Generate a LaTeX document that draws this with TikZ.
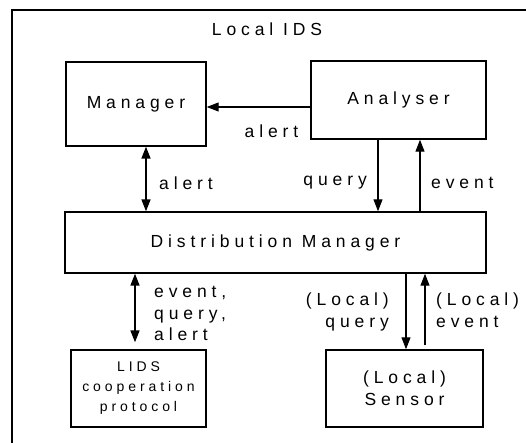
\documentclass[tikz,border=0pt]{standalone}
\usepackage{fontspec}
\setmainfont{Liberation Sans}[LetterSpace=28]
\usetikzlibrary{arrows.meta}
\tikzset{
  box/.style={draw, line width=1.4pt, inner sep=0pt, align=center},
  big/.style={font=\fontsize{17.5}{21.5}\selectfont},
  lbl/.style={big, inner sep=0pt},
  arr/.style={line width=1.1pt, -{Triangle[length=12pt,width=9pt]}},
  biarr/.style={line width=1.6pt, {Triangle[length=12pt,width=9pt]}-{Triangle[length=12pt,width=9pt]}},
}
\begin{document}
\begin{tikzpicture}[x=1pt,y=-1pt]
\useasboundingbox (0,0) rectangle (526,443);
% outer frame (only left and top edges visible)
\draw[line width=1.8pt] (12,443) -- (12,10) -- (526,10);
\node[lbl] (title) at (267,29) {Local IDS};
\node[box, big, minimum width=140pt, minimum height=84pt] (mgr) at (136,104) {Manager};
\node[box, big, minimum width=175pt, minimum height=78pt] (ana) at (398.5,100) {Analyser};
\node[box, big, minimum width=421pt, minimum height=61pt] (dm) at (275.5,242.5) {Distribution Manager};
\node[box, minimum width=135pt, minimum height=77pt, font=\fontsize{14}{20}\selectfont] (lids) at (138.5,388.5) {LIDS\\cooperation\\protocol};
\node[box, minimum width=157pt, minimum height=77pt, font=\fontsize{17.5}{22}\selectfont] (sen) at (404.5,388.5) {(Local)\\Sensor};
% connectors
\draw[arr] (ana.west |- {(0,107)}) -- (mgr.east |- {(0,107)});
\node[lbl] (l1) at (271.5,131) {alert};
\draw[biarr] (mgr.south -| {(146,0)}) -- (dm.north -| {(146,0)});
\node[lbl, anchor=west] (l2) at (159,183) {alert};
\draw[arr] (ana.south -| {(378,0)}) -- (dm.north -| {(378,0)});
\node[lbl, anchor=east] (l3) at (367,183) {query};
\draw[arr] (dm.north -| {(420,0)}) -- (ana.south -| {(420,0)});
\node[lbl, anchor=west] (l4) at (431,183) {event};
\draw[biarr, shorten >=7pt] (dm.south -| {(135,0)}) -- (lids.north -| {(135,0)});
\node[lbl, anchor=north west, align=left] (l5) at (154,286) {event,\\query,\\alert};
\draw[arr] (dm.south -| {(406,0)}) -- (sen.north -| {(406,0)});
\node[lbl, anchor=north east, align=right] (l6) at (389,293) {(Local)\\query};
\draw[arr, shorten <=4pt] (sen.north -| {(425,0)}) -- (dm.south -| {(425,0)});
\node[lbl, anchor=north west, align=left] (l7) at (436,293) {(Local)\\event};
\end{tikzpicture}
\end{document}
